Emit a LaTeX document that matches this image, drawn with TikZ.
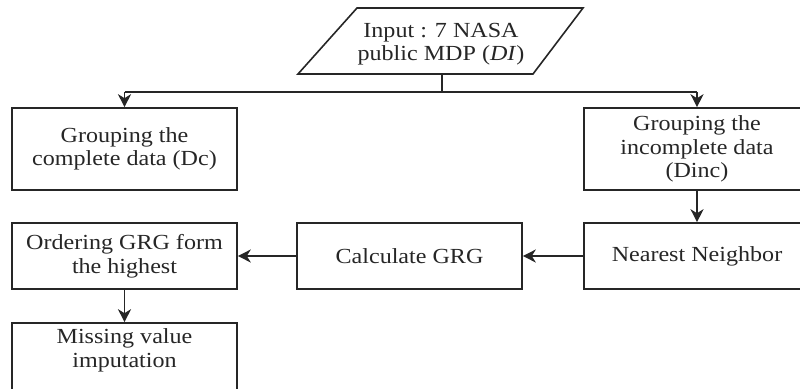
\documentclass[tikz,border=0pt]{standalone}
\usepackage{fontspec}
\setmainfont{Liberation Serif}[FakeStretch=1.12]
\usetikzlibrary{arrows.meta}
\begin{document}
\begin{tikzpicture}[x=1pt,y=-1pt,
  line width=1.6pt,
  txt/.style={align=center,font=\fontsize{21.5}{23.5}\selectfont,text=black!85},
  box/.style={txt,draw=black!85,rectangle,minimum width=225pt,inner sep=0pt},
  arr/.style={draw=black!85,-{Stealth[length=13pt,width=13pt,inset=4pt]}}]
\useasboundingbox (0,0) rectangle (800,388);
\clip (0,0) rectangle (800,388);
% input parallelogram
\draw[draw=black!85] (357,8) -- (583,8) -- (533,74) -- (298,74) -- cycle;
\node[txt] (inp) at (441,44) {Input : 7 NASA\\public MDP (\textit{DI})};
\coordinate (inB) at (442,74);
\coordinate (hl) at (124.5,92);
\coordinate (hr) at (697,92);
% boxes
\node[box,minimum height=82pt] (dc) at (124.5,149) {Grouping the\\complete data (Dc)};
\node[box,minimum width=226pt,minimum height=82pt] (dinc) at (697,149) {Grouping the\\incomplete data\\(Dinc)};
\node[box,minimum width=226pt,minimum height=66pt] (nn) at (697,256) {Nearest Neighbor};
\node[box,minimum height=66pt] (grg) at (409.5,256) {Calculate GRG};
\node[box,minimum height=66pt] (ord) at (124.5,256) {Ordering GRG form\\the highest};
\node[box,minimum height=72pt] (miss) at (124.5,359) {};
\node[txt] (misst) at ([yshift=-28pt]miss.north) {Missing value\\imputation};
% connectors
\draw[draw=black!85] (inB) -- (inB |- hl);
\draw[draw=black!85] (hl) -- (hr);
\draw[arr] (hl) -- (dc.north);
\draw[arr] (hr) -- (dinc.north);
\draw[arr] (dinc) -- (nn);
\draw[arr] (nn) -- (grg);
\draw[arr] (grg) -- (ord);
\draw[arr] (ord) -- (miss);
\end{tikzpicture}
\end{document}
